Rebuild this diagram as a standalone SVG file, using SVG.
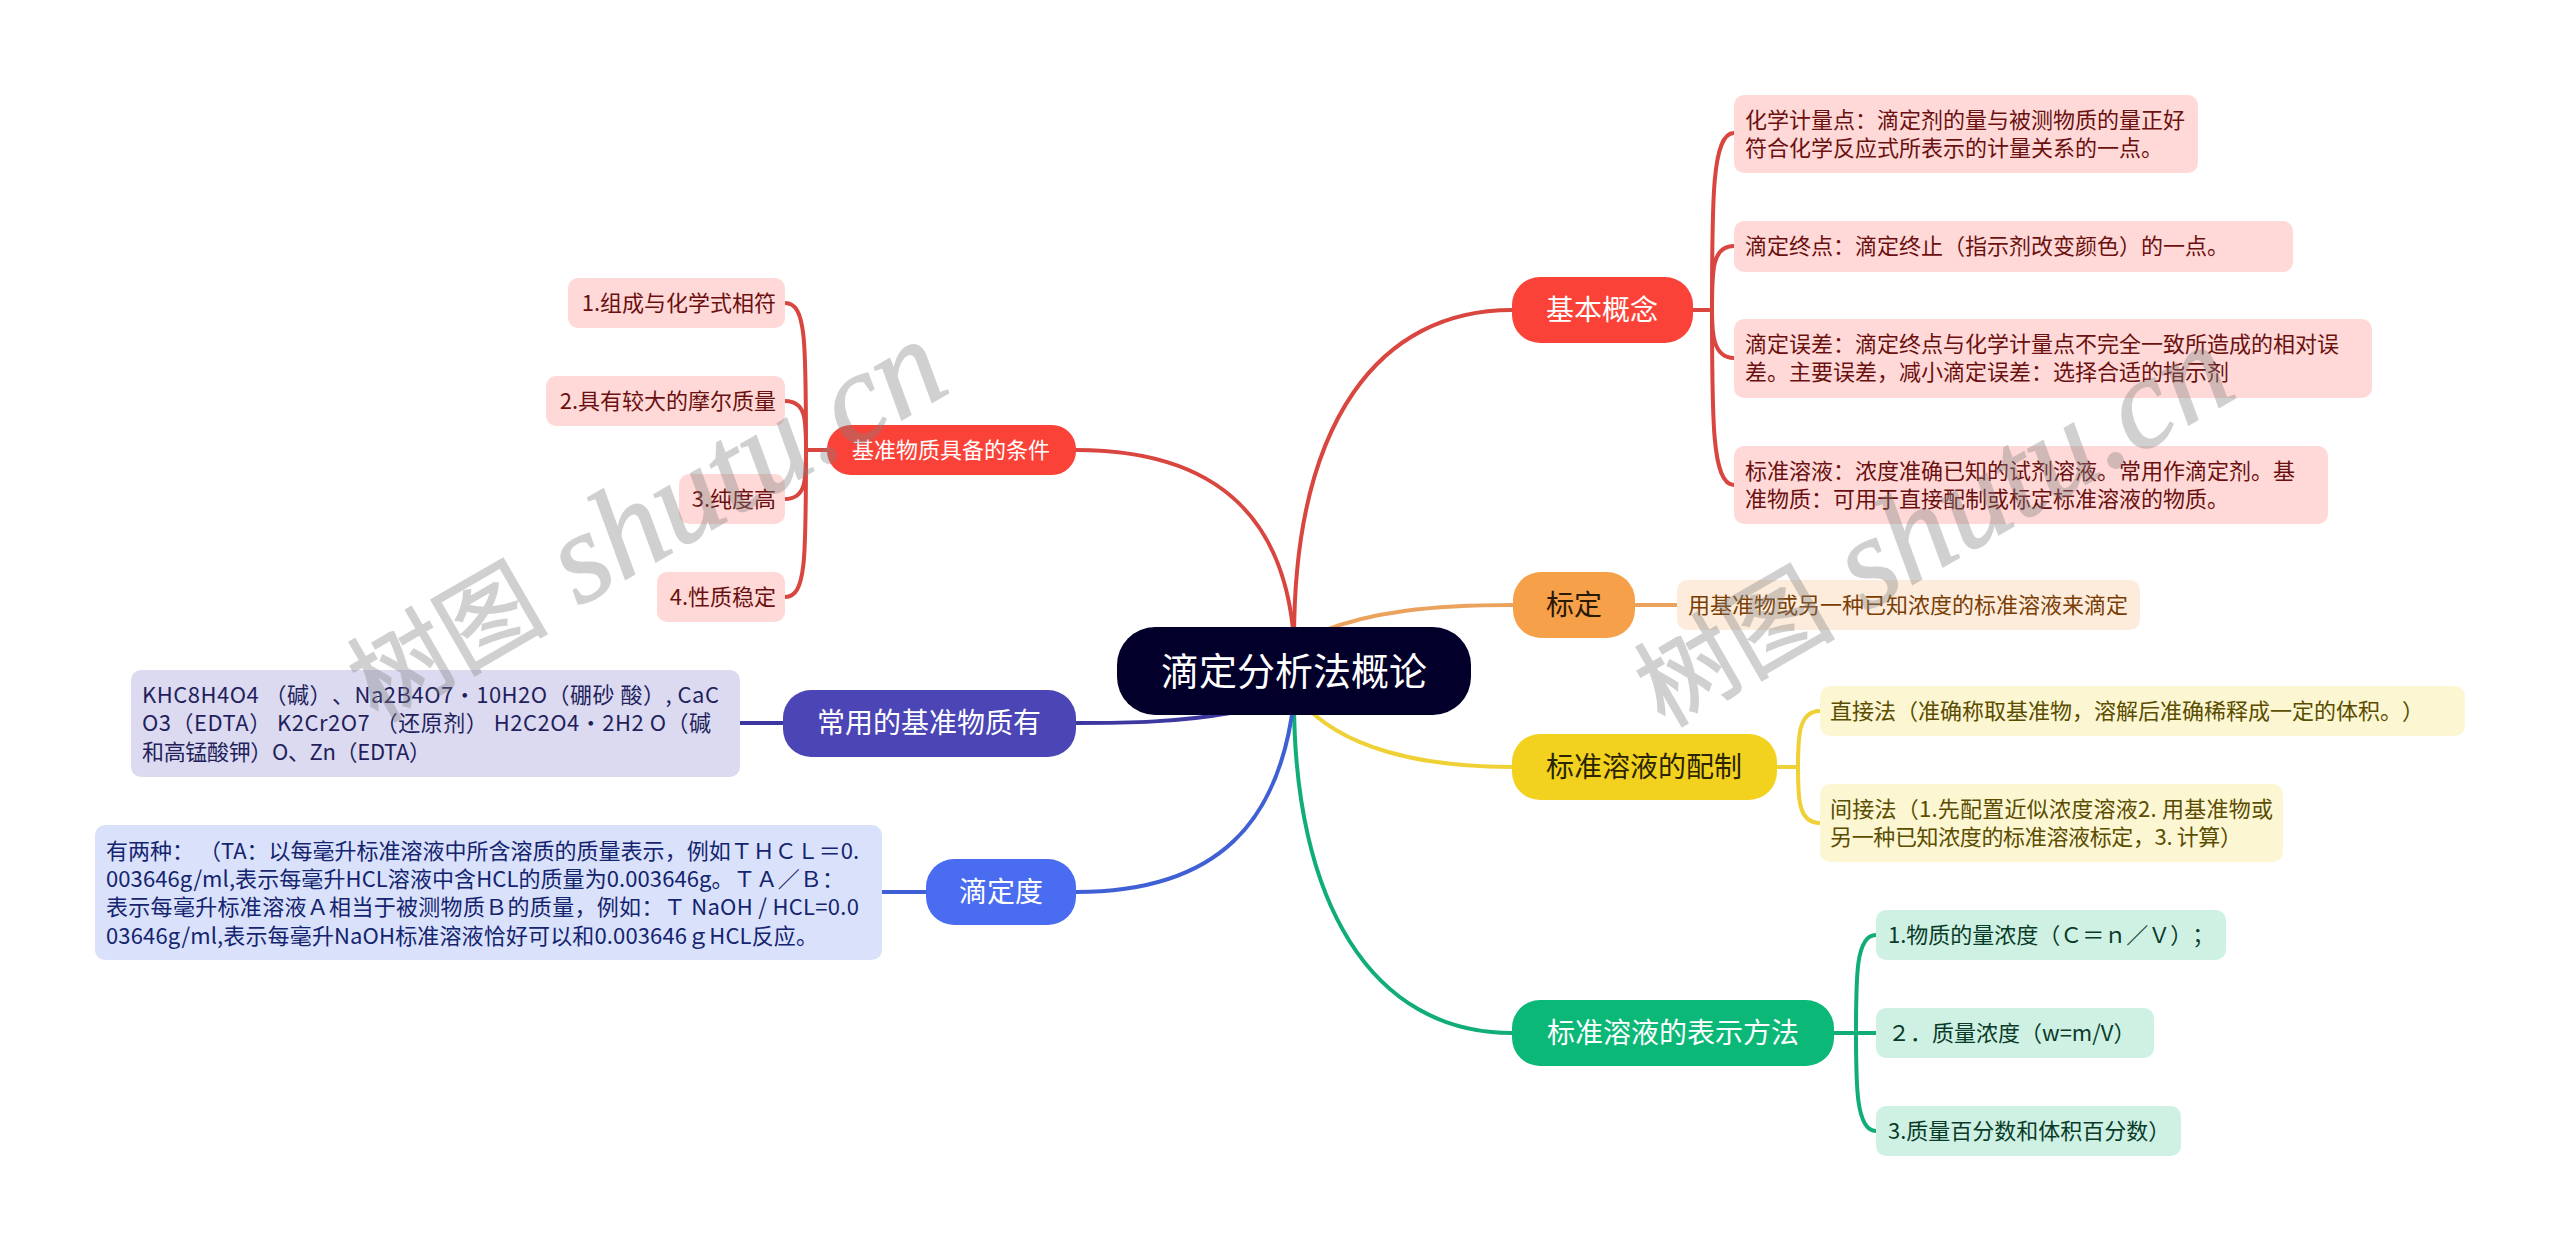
<svg xmlns="http://www.w3.org/2000/svg" width="2560" height="1251" viewBox="0 0 2560 1251">
<style>
text{font-family:"Noto Sans CJK SC","Microsoft YaHei","Liberation Sans",sans-serif;font-size:22px;text-spacing-trim:space-all}
.big{font-size:28px;text-anchor:middle}
.c{fill:none;stroke-width:4;stroke-linecap:round}
.r{stroke:#d9453f}.o{stroke:#eba25c}.y{stroke:#efd035}.g{stroke:#10ad76}.b{stroke:#3f60d5}.p{stroke:#3d38a0}
.lr rect{fill:#ffd9d7}.lr text{fill:#6b1010}
.lo rect{fill:#fdecdc}.lo text{fill:#7a3e05}
.ly rect{fill:#fdf6d3}.ly text{fill:#5a4d00}
.lg rect{fill:#cef1e4}.lg text{fill:#0a3b28}
.lb rect{fill:#d9e1fb}.lb text{fill:#14246e}
.lp rect{fill:#dbdaf0}.lp text{fill:#231f5c}
#watermarks text{font-family:"Liberation Serif","Noto Sans CJK SC",serif;font-size:129px;font-style:italic;fill:#808080;stroke:#808080;stroke-width:1.5;opacity:.36}
#watermarks tspan.cj{font-family:"Noto Sans CJK SC",serif;font-size:100px;font-style:normal}
</style>
<rect width="2560" height="1251" fill="#fff"/>
<g id="connectors">
<path class="c r" d="M1294 640C1294 420 1380 310 1512 310"/>
<path class="c r" d="M1294 640C1285 520 1220 450 1076 450"/>
<path class="c o" d="M1320 632C1370 612 1430 605 1513 605"/>
<path class="c y" d="M1300 700C1340 748 1420 767 1512 767"/>
<path class="c g" d="M1294 700C1294 900 1370 1033 1512 1033"/>
<path class="c b" d="M1294 700C1280 820 1220 892 1076 892"/>
<path class="c p" d="M1230 713C1180 722 1130 723 1076 723"/>
<path class="c r" d="M1693 310H1712C1712 200 1712 133 1734 133M1712 310C1712 270 1712 246 1734 246M1712 310C1712 330 1712 358 1734 358M1712 310C1712 420 1712 485 1734 485"/>
<path class="c r" d="M827 450H806C806 340 806 303 785 303M806 450C806 420 806 401 785 401M806 450C806 480 806 499 785 499M806 450C806 560 806 597 785 597"/>
<path class="c o" d="M1635 605H1677"/>
<path class="c y" d="M1777 767H1798C1798 738 1798 711 1820 711M1798 767C1798 798 1798 823 1820 823"/>
<path class="c g" d="M1834 1033H1856C1856 975 1856 935 1876 935M1856 1033H1876M1856 1033C1856 1085 1856 1131 1876 1131"/>
<path class="c p" d="M783 723H740"/>
<path class="c b" d="M926 892H882"/>
</g>
<g id="root"><rect x="1117" y="627" width="354" height="88" rx="38" fill="#02002a"/><text x="1294" y="685" class="big" style="font-size:38px" fill="#fff">滴定分析法概论</text></g>
<g id="n-jiben"><rect x="1512" y="277" width="181" height="66" rx="28" fill="#fb4239"/><text x="1602" y="320" class="big" fill="#fff">基本概念</text></g>
<g id="n-biaoding"><rect x="1513" y="572" width="122" height="66" rx="28" fill="#f7a04a"/><text x="1574" y="615" class="big" fill="#2a1a05">标定</text></g>
<g id="n-peizhi"><rect x="1512" y="734" width="265" height="66" rx="28" fill="#f2d21f"/><text x="1644" y="777" class="big" fill="#2a2400">标准溶液的配制</text></g>
<g id="n-biaoshi"><rect x="1512" y="1000" width="322" height="66" rx="28" fill="#0cb878"/><text x="1673" y="1043" class="big" fill="#fff">标准溶液的表示方法</text></g>
<g id="n-jizhun"><rect x="827" y="425" width="249" height="50" rx="24" fill="#fb4239"/><text x="951" y="458" class="big" style="font-size:22px" fill="#fff">基准物质具备的条件</text></g>
<g id="n-changyong"><rect x="783" y="690" width="293" height="67" rx="28" fill="#4b45b5"/><text x="929" y="733" class="big" fill="#fff">常用的基准物质有</text></g>
<g id="n-didingdu"><rect x="926" y="859" width="150" height="66" rx="28" fill="#4a6cf0"/><text x="1001" y="902" class="big" fill="#fff">滴定度</text></g>

<g id="l1" class="lr"><rect x="1734" y="95" width="464" height="78" rx="10"/><text x="1745" y="128">化学计量点：滴定剂的量与被测物质的量正好</text><text x="1745" y="156">符合化学反应式所表示的计量关系的一点。</text></g>
<g id="l2" class="lr"><rect x="1734" y="221" width="559" height="51" rx="10"/><text x="1745" y="254">滴定终点：滴定终止（指示剂改变颜色）的一点。</text></g>
<g id="l3" class="lr"><rect x="1734" y="319" width="638" height="79" rx="10"/><text x="1745" y="352">滴定误差：滴定终点与化学计量点不完全一致所造成的相对误</text><text x="1745" y="380">差。主要误差，减小滴定误差：选择合适的指示剂</text></g>
<g id="l4" class="lr"><rect x="1734" y="446" width="594" height="78" rx="10"/><text x="1745" y="479">标准溶液：浓度准确已知的试剂溶液。常用作滴定剂。基</text><text x="1745" y="507">准物质：可用于直接配制或标定标准溶液的物质。</text></g>
<g id="l5" class="lo"><rect x="1677" y="580" width="463" height="50" rx="10"/><text x="1688" y="613">用基准物或另一种已知浓度的标准溶液来滴定</text></g>
<g id="l6" class="ly"><rect x="1820" y="686" width="645" height="50" rx="10"/><text x="1830" y="719">直接法（准确称取基准物，溶解后准确稀释成一定的体积。）</text></g>
<g id="l7" class="ly"><rect x="1820" y="784" width="463" height="78" rx="10"/><text x="1830" y="817" textLength="443">间接法（1.先配置近似浓度溶液2. 用基准物或</text><text x="1830" y="845" textLength="412">另一种已知浓度的标准溶液标定，3. 计算）</text></g>
<g id="l8" class="lg"><rect x="1876" y="910" width="350" height="50" rx="10"/><text x="1888" y="943">1.物质的量浓度（Ｃ＝ｎ／Ｖ）；</text></g>
<g id="l9" class="lg"><rect x="1876" y="1008" width="278" height="50" rx="10"/><text x="1888" y="1041">２．质量浓度（w=m/V）</text></g>
<g id="l10" class="lg"><rect x="1876" y="1106" width="305" height="50" rx="10"/><text x="1888" y="1139">3.质量百分数和体积百分数）</text></g>
<g id="l11" class="lr" text-anchor="end"><rect x="568" y="278" width="217" height="50" rx="10"/><text x="776" y="311">1.组成与化学式相符</text></g>
<g id="l12" class="lr" text-anchor="end"><rect x="546" y="376" width="239" height="50" rx="10"/><text x="776" y="409">2.具有较大的摩尔质量</text></g>
<g id="l13" class="lr" text-anchor="end"><rect x="679" y="474" width="106" height="50" rx="10"/><text x="776" y="507">3.纯度高</text></g>
<g id="l14" class="lr" text-anchor="end"><rect x="657" y="572" width="128" height="50" rx="10"/><text x="776" y="605">4.性质稳定</text></g>
<g id="l15" class="lp"><rect x="131" y="670" width="609" height="107" rx="10"/><text x="142" y="703" textLength="577">KHC8H4O4 （碱）、Na2B4O7•10H2O（硼砂 酸）, CaC</text><text x="142" y="731" textLength="569">O3（EDTA） K2Cr2O7 （还原剂） H2C2O4•2H2 O（碱</text><text x="142" y="760" textLength="289">和高锰酸钾）O、Zn（EDTA）</text></g>
<g id="l16" class="lb"><rect x="95" y="825" width="787" height="135" rx="10"/><text x="106" y="859" textLength="753">有两种： （TA：以每毫升标准溶液中所含溶质的质量表示，例如ＴＨＣＬ＝0.</text><text x="106" y="887" textLength="738">003646g/ml,表示每毫升HCL溶液中含HCL的质量为0.003646g。ＴＡ／Ｂ：</text><text x="106" y="915" textLength="753">表示每毫升标准溶液Ａ相当于被测物质Ｂ的质量，例如：Ｔ NaOH / HCL=0.0</text><text x="106" y="944" textLength="712">03646g/ml,表示每毫升NaOH标准溶液恰好可以和0.003646ｇHCL反应。</text></g>
<g id="watermarks"><text transform="translate(377 723) rotate(-30)"><tspan class="cj">树图</tspan> shutu.cn</text><text transform="translate(1664 728) rotate(-30)"><tspan class="cj">树图</tspan> shutu.cn</text></g>
</svg>
